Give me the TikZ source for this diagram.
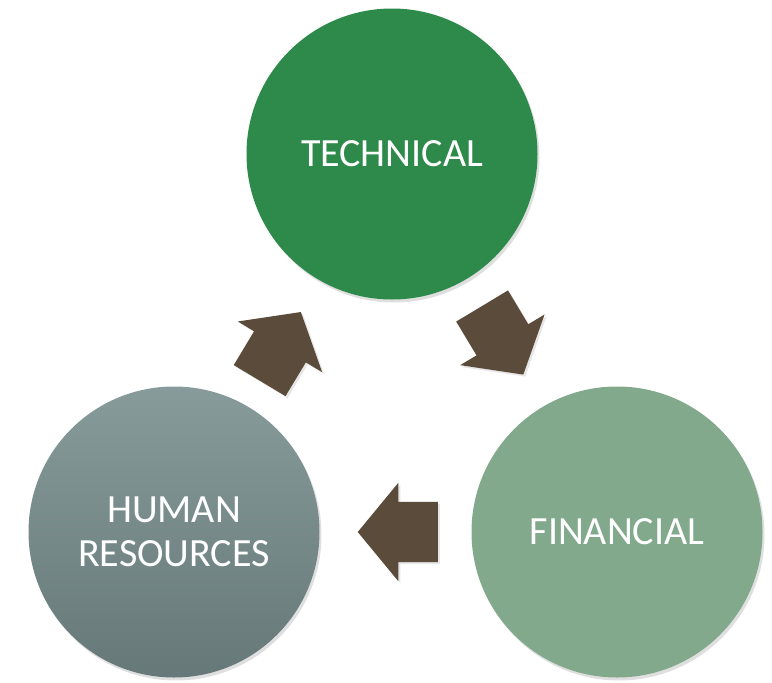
\documentclass[tikz,border=0pt]{standalone}
\usepackage{fontspec}
\setmainfont{Carlito}
\usetikzlibrary{shapes.arrows,shadows,calc}

\definecolor{techgreen}{HTML}{2E8A4A}
\definecolor{fingreen}{HTML}{82A98C}
\definecolor{hrtop}{HTML}{889B9B}
\definecolor{hrbottom}{HTML}{667878}
\definecolor{flowbrown}{HTML}{5B4B3A}

\begin{document}
\begin{tikzpicture}[x=1pt,y=-1pt,
  area/.style={circle, minimum size=291pt, inner sep=0pt, text=white, align=center,
    font=\fontsize{40}{44}\selectfont,
    drop shadow={opacity=0.25, shadow xshift=2pt, shadow yshift=-3pt}},
  flow/.style={single arrow, fill=flowbrown, inner xsep=0pt, inner ysep=30pt,
    minimum height=80pt, single arrow head extend=19pt, single arrow tip angle=101,
    anchor=tip, drop shadow={opacity=0.2, shadow xshift=2pt, shadow yshift=-2pt}}]
\useasboundingbox (0,0) rectangle (772,683);
\node[area, fill=techgreen] (tech) at (392,154) {TECHNICAL};
\node[area, fill=fingreen] (fin) at (617,532) {FINANCIAL};
\node[area, top color=hrtop, bottom color=hrbottom] (hr) at (174,532) {HUMAN\\RESOURCES};
% cycle arrows between the circles
\node[flow, rotate=-59] (techfin) at ($(tech)!0.5!(fin)!37pt!(fin)$) {};
\node[flow, rotate=180] (finhr) at ($(fin)!0.5!(hr)!38pt!(hr)$) {};
\node[flow, rotate=59] (hrtech) at ($(hr)!0.5!(tech)!36pt!(tech)$) {};
\end{tikzpicture}
\end{document}
